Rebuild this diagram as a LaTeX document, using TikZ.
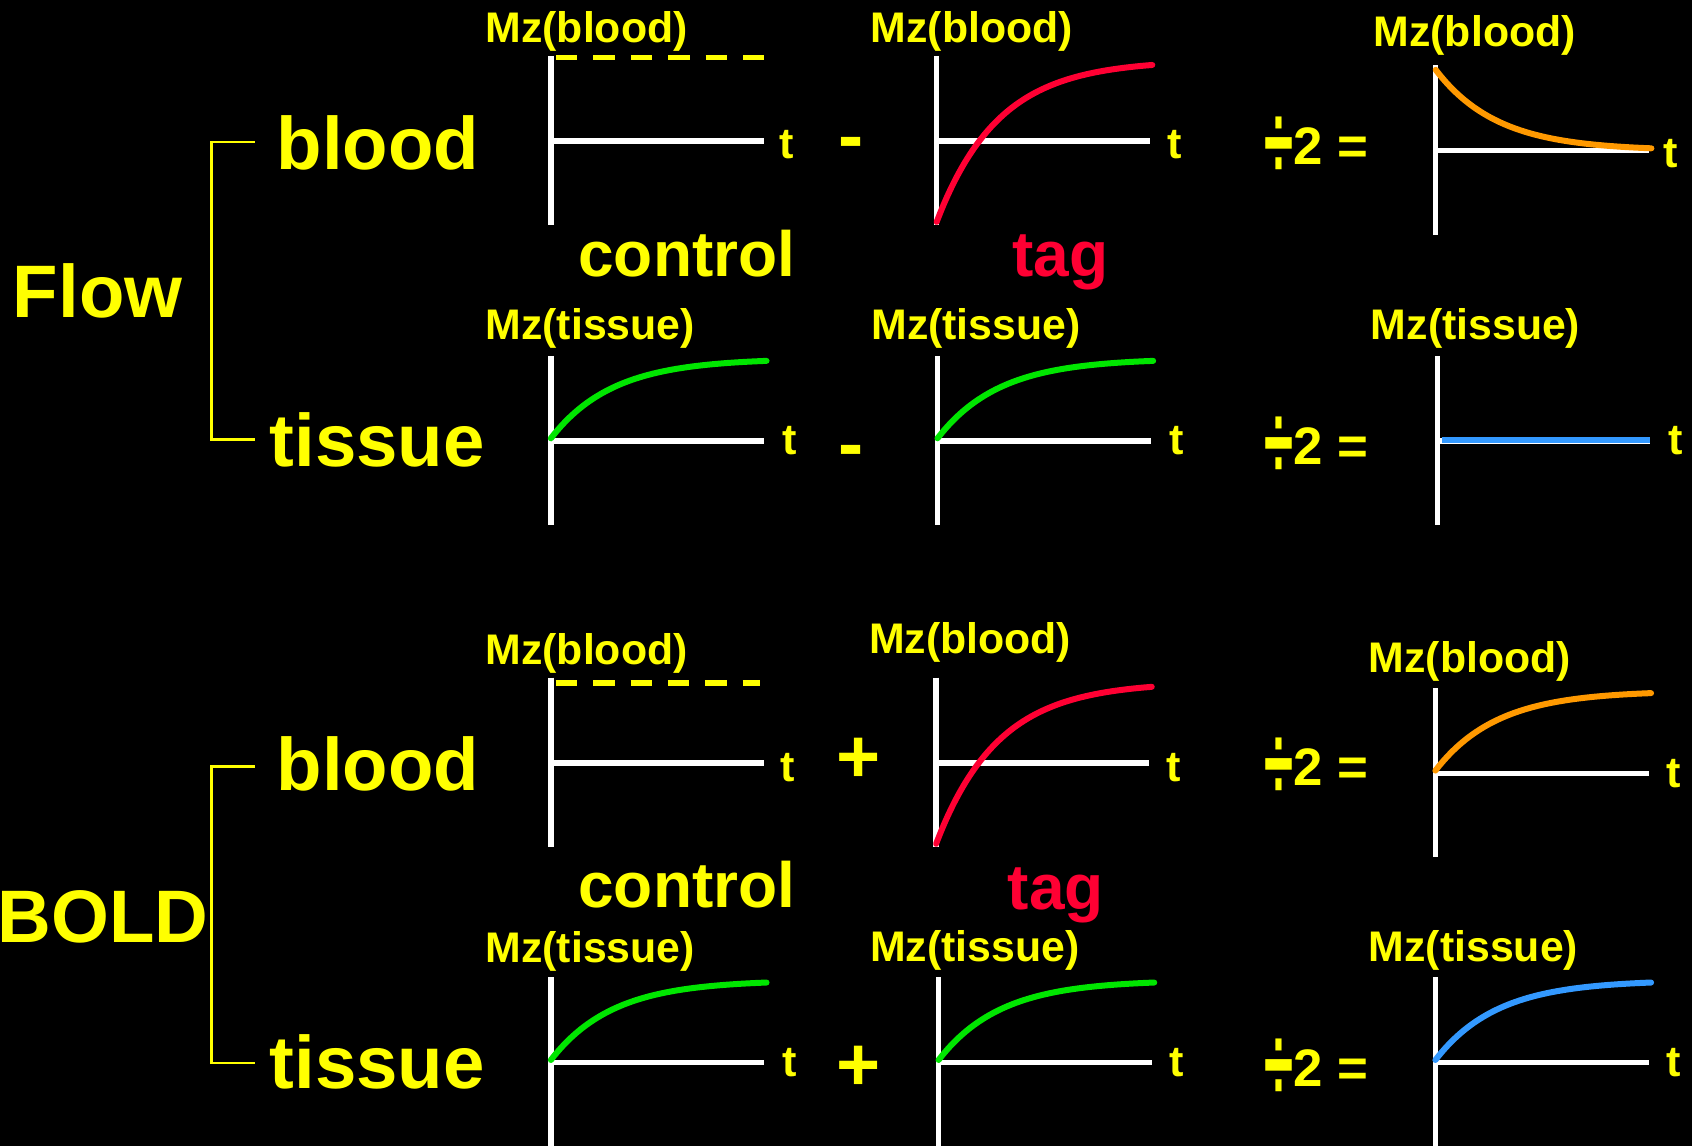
\documentclass[tikz,border=0pt]{standalone}
\usepackage{fontspec}
\setmainfont{Liberation Sans}
\usepackage{graphicx}
\definecolor{yel}{HTML}{FFFF00}
\definecolor{redc}{HTML}{FF0033}
\definecolor{grn}{HTML}{00E600}
\definecolor{org}{HTML}{FF9900}
\definecolor{blu}{HTML}{3399FF}
\tikzset{
  bigl/.style={anchor=base west, inner sep=0pt, outer sep=0pt, text=yel, font=\bfseries\fontsize{37.2}{44}\selectfont},
  midl/.style={anchor=base west, inner sep=0pt, outer sep=0pt, text=yel, font=\bfseries\fontsize{32.0}{38}\selectfont},
  mzl/.style={anchor=base west, inner sep=0pt, outer sep=0pt, text=yel, font=\bfseries\fontsize{21.4}{25}\selectfont},
  tlab/.style={anchor=base west, inner sep=0pt, outer sep=0pt, text=yel, font=\bfseries\fontsize{21.6}{25}\selectfont},
  opl/.style={anchor=base, inner sep=0pt, outer sep=0pt, text=yel, font=\bfseries\fontsize{37.8}{44}\selectfont},
  divl/.style={anchor=base west, inner sep=0pt, outer sep=0pt, text=yel, font=\bfseries\fontsize{26.4}{30}\selectfont},
  axis/.style={draw=white, line width=2.7pt},
  curve/.style={line width=3pt, line cap=round},
  dashln/.style={draw=yel, line width=2.7pt, dash pattern=on 10.7pt off 8pt},
  brk/.style={draw=yel, line width=1.35pt}
}
\newcommand\axs[2]{\draw[axis] (#1,#2-79) -- (#1,#2+78); \draw[axis] (#1,#2) -- (#1+197.5,#2);}
\newcommand\crvtag[3]{\draw[curve,#3] plot[domain=0:1,samples=60,smooth] ({#1+200*\x},{#2-75*(1-2*exp(-\x/0.285))});}
\newcommand\crvrise[3]{\draw[curve,#3] plot[domain=0:1,samples=60,smooth] ({#1+200*\x},{#2-2.5-74*(1-exp(-\x/0.285))});}
\newcommand\crvdecay[3]{\draw[curve,#3] plot[domain=0:1,samples=60,smooth] ({#1+200*\x},{#2-75*exp(-\x/0.285)});}
\newcommand\divtwo{\raisebox{-7pt}{\scalebox{1.0}[2.0]{÷}}2 =}
\begin{document}
\begin{tikzpicture}[x=0.5396pt, y=-0.5396pt]
\fill[black] (0,0) rectangle (1568,1062);
\useasboundingbox (0,0) rectangle (1568,1062);

% ---------------- Flow ----------------
\node[bigl] (flow) at (12,294) {Flow};
\node[bigl] (fblood) at (256.5,157.2) {blood};
\node[bigl] (ftissue) at (250,432) {tissue};
\coordinate (fbt) at (236,131.7);
\coordinate (fbb) at (236,407);
\draw[brk] (fbt) -- (195.8,131.7) -- (195.8,407) -- (fbb);

% row 1 : blood
\axs{510.5}{130.7}
\draw[dashln] (515.3,53.4) -- (708.5,53.4);
\node[mzl] (m11) at (450,39) {Mz(blood)};
\node[tlab] (t11) at (722.5,146.8) {t};
\node[opl] (op1) at (789,149.6) {-};
\axs{868}{130.7}
\crvtag{868}{130.7}{redc}
\node[mzl] (m12) at (807,39) {Mz(blood)};
\node[tlab] (t12) at (1081.5,146.8) {t};
\node[divl] (d1) at (1171.5,152) {\divtwo};
\axs{1330.5}{139.7}
\crvdecay{1330.5}{139.7}{org}
\node[mzl] (m13) at (1273,43) {Mz(blood)};
\node[tlab] (t13) at (1542,154.9) {t};

\node[midl] (ctl1) at (536,256.5) {control};
\node[midl,text=redc] (tag1) at (938,256.5) {tag};

% row 2 : tissue
\axs{510.5}{408.7}
\crvrise{510.5}{408.7}{grn}
\node[mzl] (m21) at (450,315) {Mz(tissue)};
\node[tlab] (t21) at (725,421.5) {t};
\node[opl] (op2) at (789,435) {-};
\axs{868.8}{408.7}
\crvrise{868.8}{408.7}{grn}
\node[mzl] (m22) at (807.5,315) {Mz(tissue)};
\node[tlab] (t22) at (1084,421.5) {t};
\node[divl] (d2) at (1171.5,430) {\divtwo};
\axs{1332}{408.7}
\draw[blu, line width=3pt] (1336,408.2) -- (1529,408.2);
\node[mzl] (m23) at (1270.5,315) {Mz(tissue)};
\node[tlab] (t23) at (1546,421.5) {t};

% ---------------- BOLD ----------------
\node[bigl] (bold) at (-2,873) {BOLD};
\node[bigl] (bblood) at (256.5,733) {blood};
\node[bigl] (btissue) at (250,1008.5) {tissue};
\coordinate (bbt) at (236,710);
\coordinate (bbb) at (236,985);
\draw[brk] (bbt) -- (195.8,710) -- (195.8,985) -- (bbb);

% row 3 : blood
\axs{510.5}{707}
\draw[dashln] (515,633) -- (704,633);
\node[mzl] (m31) at (450,616) {Mz(blood)};
\node[tlab] (t31) at (723.5,724.2) {t};
\node[opl] (op3) at (796,725) {+};
\axs{867.5}{707}
\crvtag{867.5}{707}{redc}
\node[mzl] (m32) at (805.5,606) {Mz(blood)};
\node[tlab] (t32) at (1081,724.2) {t};
\node[divl] (d3) at (1171.5,727.5) {\divtwo};
\axs{1330.2}{716.6}
\crvrise{1330.2}{716.6}{org}
\node[mzl] (m33) at (1268.5,623) {Mz(blood)};
\node[tlab] (t33) at (1544.5,729.8) {t};

\node[midl] (ctl2) at (536,841) {control};
\node[midl,text=redc] (tag2) at (934,842.4) {tag};

% row 4 : tissue
\axs{510.5}{984.8}
\crvrise{510.5}{984.8}{grn}
\node[mzl] (m41) at (450,892) {Mz(tissue)};
\node[tlab] (t41) at (725.5,997.6) {t};
\node[opl] (op4) at (796,1011) {+};
\axs{869.8}{984.8}
\crvrise{869.8}{984.8}{grn}
\node[mzl] (m42) at (806.5,891) {Mz(tissue)};
\node[tlab] (t42) at (1083.5,998) {t};
\node[divl] (d4) at (1171.5,1006.9) {\divtwo};
\axs{1330.2}{984.8}
\crvrise{1330.2}{984.8}{blu}
\node[mzl] (m43) at (1268.5,891) {Mz(tissue)};
\node[tlab] (t43) at (1544.5,998) {t};
\end{tikzpicture}
\end{document}
